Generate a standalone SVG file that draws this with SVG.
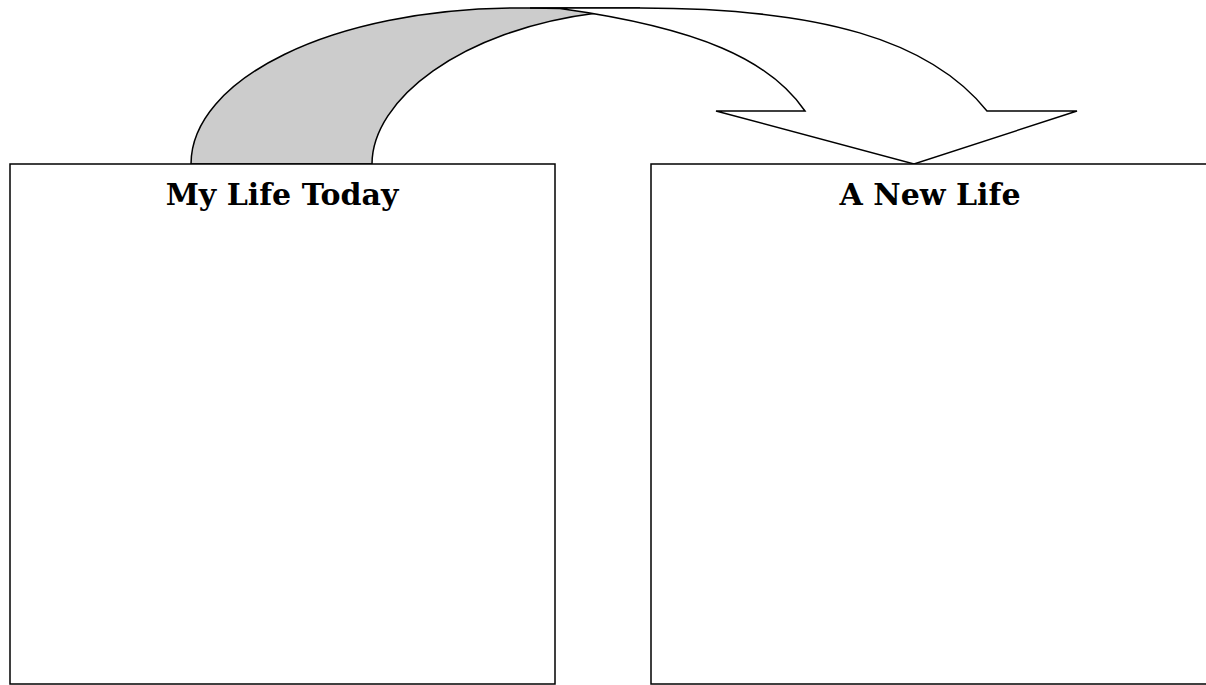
<svg xmlns="http://www.w3.org/2000/svg" width="1206" height="685" viewBox="0 0 1206 685">
<style>
.box{fill:#fff;stroke:#000;stroke-width:1.5}
.lbl{font-family:"DejaVu Serif","Liberation Serif",serif;font-weight:bold;font-size:30px;text-anchor:middle;fill:#000}
.arr{stroke:#000;stroke-width:1.5;stroke-linejoin:miter}
</style>
<rect width="1206" height="685" fill="#fff"/>
<g id="connectors">
<path class="arr" fill="#cccccc" d="M191,164 C191,80 330,8 520,8 L640,8 C625,8 615,10 597,13 C460,30 372,100 372,164 Z"/>
<path class="arr" fill="#fff" d="M530,8 L640,8 C820,8 930,40 987,111 L1077,111 L914,164 L716,111 L805,111 C770,60 700,28 560,8.5 Z"/>
</g>
<g id="my-life-today">
<rect class="box" x="10" y="164" width="545" height="520"/>
<text class="lbl" x="282" y="205">My Life Today</text>
</g>
<g id="a-new-life">
<rect class="box" x="651" y="164" width="556" height="520"/>
<text class="lbl" x="930" y="205">A New Life</text>
</g>
</svg>
